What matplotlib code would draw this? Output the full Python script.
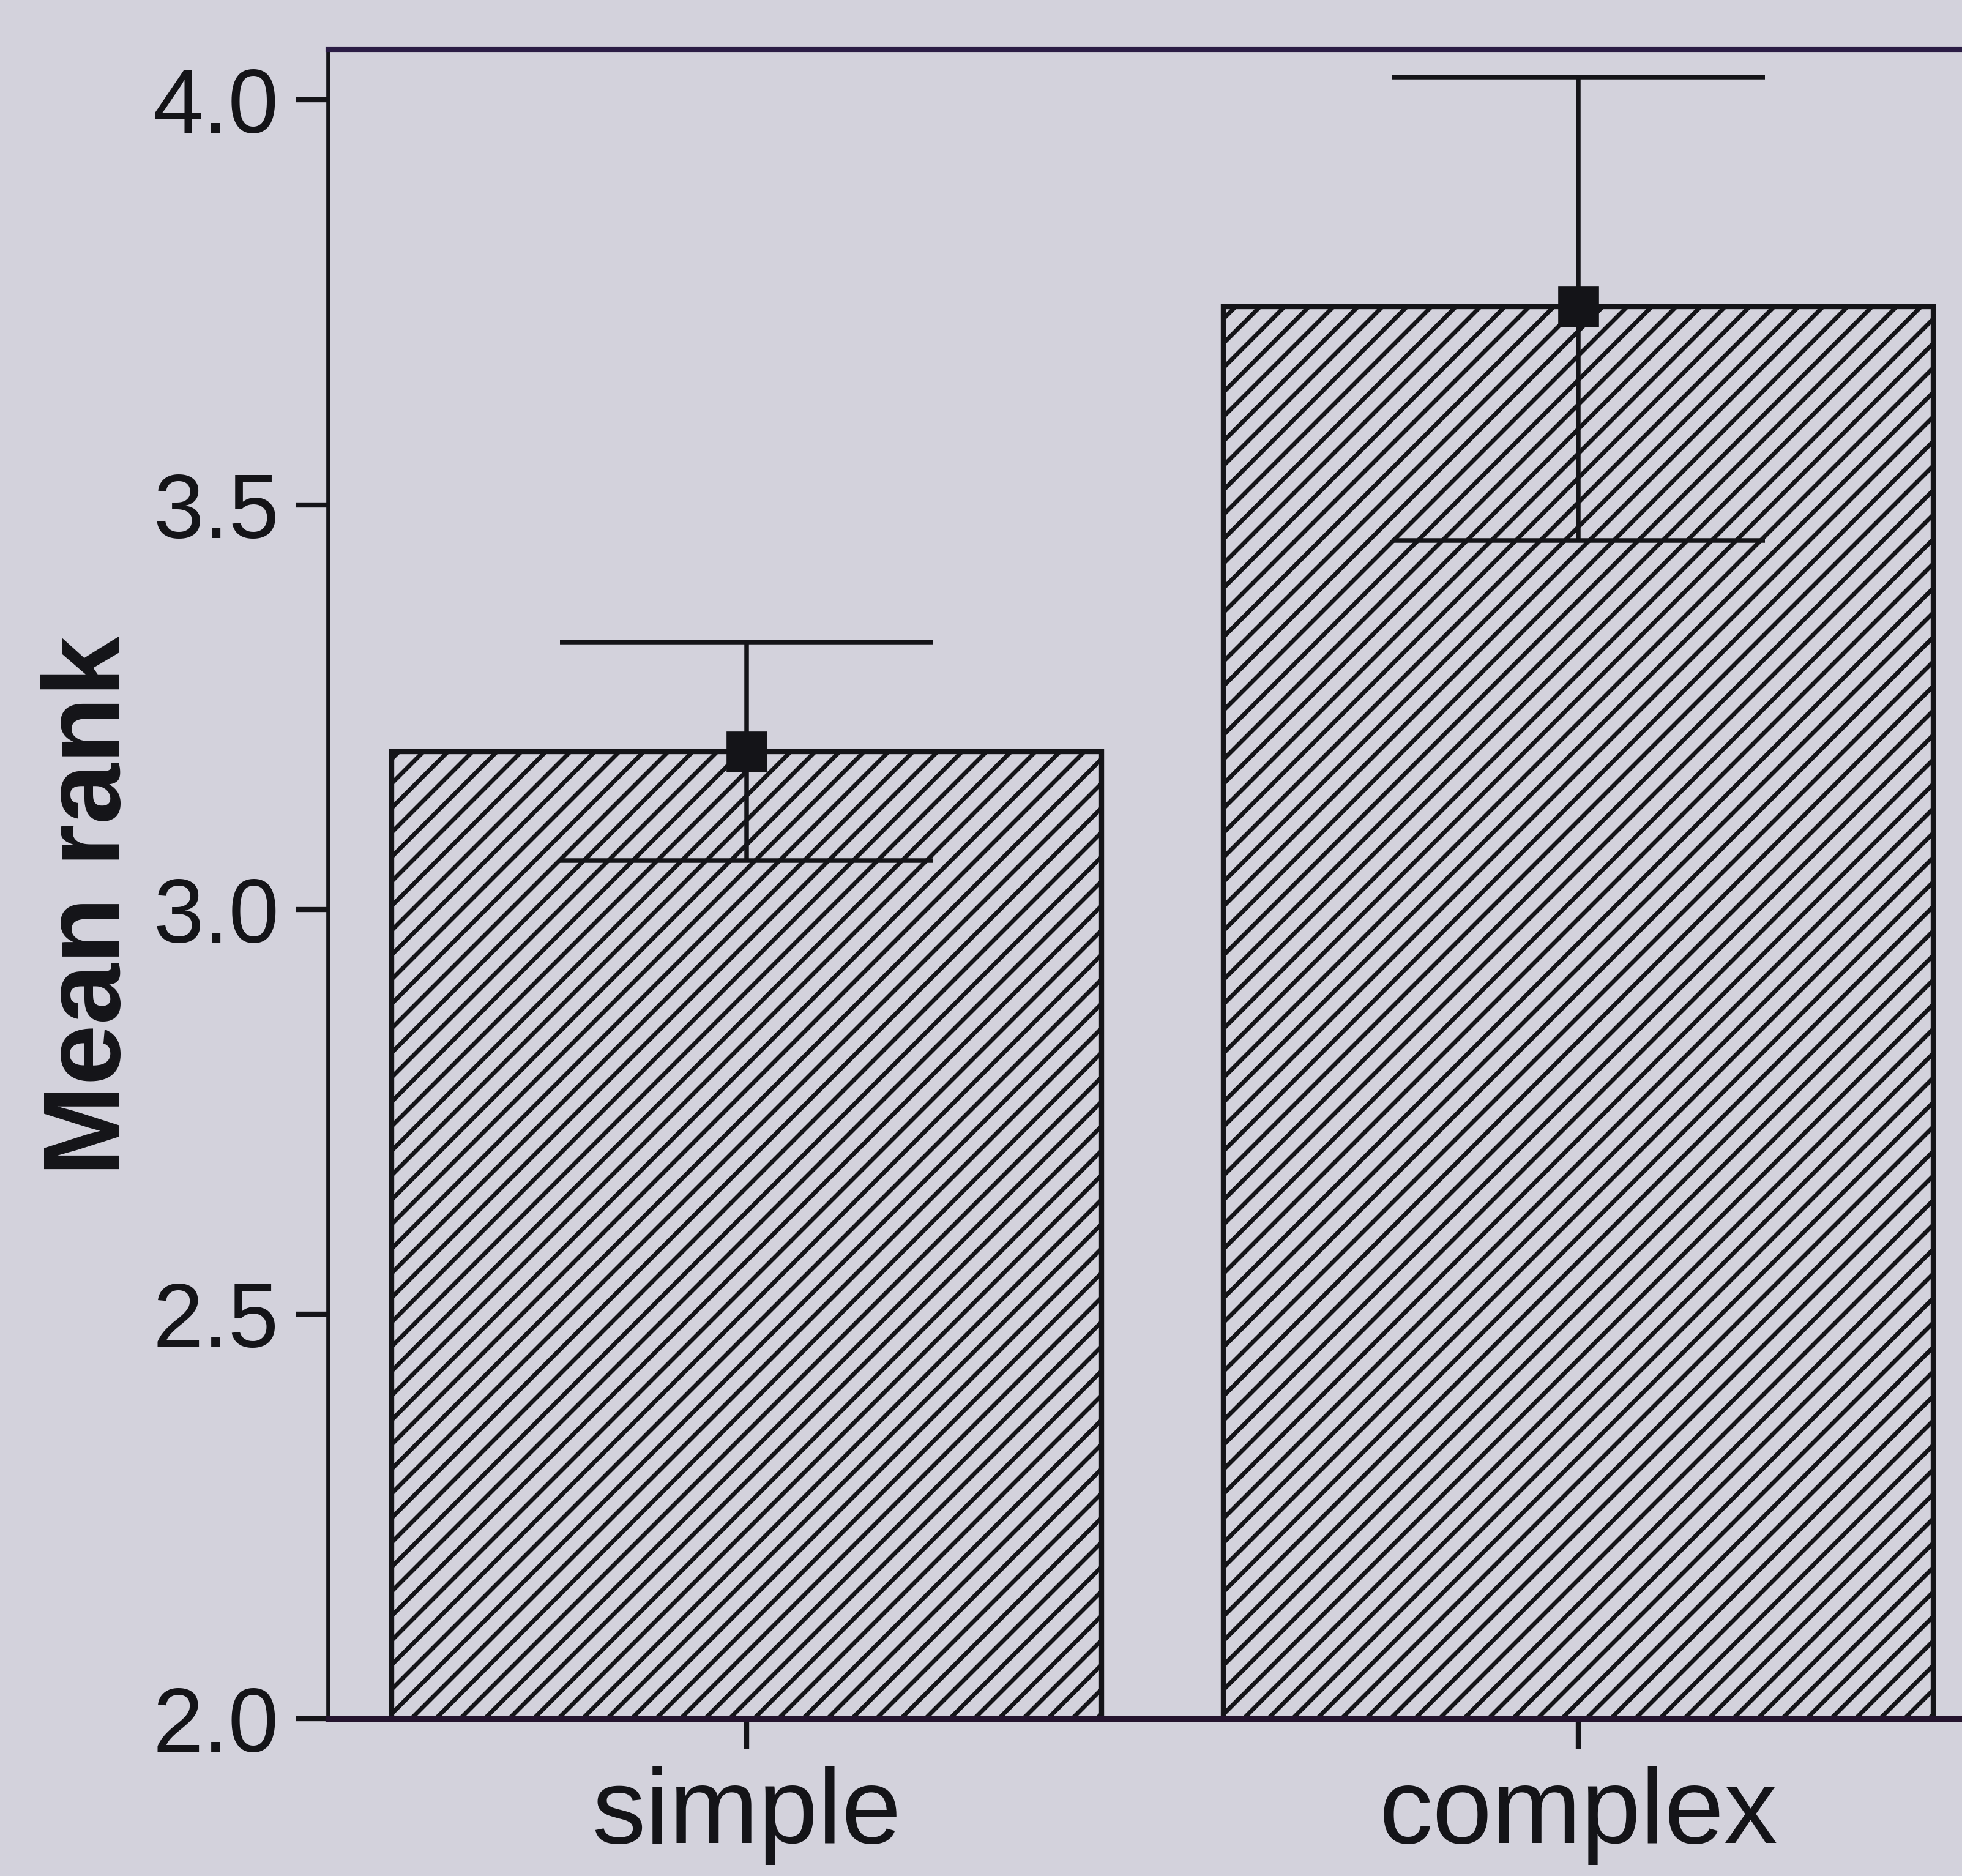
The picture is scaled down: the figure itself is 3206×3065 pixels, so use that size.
import matplotlib
matplotlib.use('Agg')
import matplotlib.pyplot as plt

categories = ['simple', 'complex']
mean_rank = [3.195, 3.745]
ci_low = [3.06, 3.456]
ci_high = [3.33, 4.028]
y_ticks = [2.0, 2.5, 3.0, 3.5, 4.0]
y_tick_labels = ['2.0', '2.5', '3.0', '3.5', '4.0']


def main():
    plt.rcParams['font.family'] = ['Liberation Sans', 'DejaVu Sans']
    plt.rcParams['hatch.linewidth'] = 4.2

    bg = '#d3d2dc'
    ink = '#141418'
    dpi = 120
    fig = plt.figure(figsize=(3206 / dpi, 3065 / dpi), dpi=dpi, facecolor=bg)
    ax = fig.add_axes([0.1672, 0.0838, 1 - 0.1672, 0.9739 - 0.0838])
    ax.set_facecolor(bg)

    x = list(range(len(categories)))
    ax.bar(x, mean_rank, width=0.853, color=bg, edgecolor=ink,
           hatch='/', linewidth=5, zorder=2)

    yerr = [[m - lo for m, lo in zip(mean_rank, ci_low)],
            [hi - m for m, hi in zip(mean_rank, ci_high)]]
    ax.errorbar(x, mean_rank, yerr=yerr, fmt='s', color=ink, markersize=39,
                elinewidth=4.5, capsize=183, capthick=4.5, zorder=3)

    ax.set_xlim(-0.503, 1.461)
    ax.set_ylim(2.0, 4.063)
    ax.set_xticks(x)
    ax.set_xticklabels(categories)
    ax.set_yticks(y_ticks)
    ax.set_yticklabels(y_tick_labels)

    ax.spines['right'].set_visible(False)
    ax.spines['top'].set_color('#2b1d45')
    ax.spines['top'].set_linewidth(5.5)
    ax.spines['bottom'].set_color('#24142e')
    ax.spines['bottom'].set_linewidth(5.5)
    ax.spines['left'].set_color(ink)
    ax.spines['left'].set_linewidth(4)

    ax.tick_params(axis='y', length=31, width=5, pad=17, labelsize=89,
                   colors=ink, direction='out')
    ax.tick_params(axis='x', length=30, width=5, pad=16, labelsize=105,
                   colors=ink, direction='out')

    fig.text(150 / 3206, 1 - 1480 / 3065, 'Mean rank', rotation=90,
             ha='center', va='center', fontsize=107, fontweight='bold',
             color=ink)

    fig.savefig('out.png', dpi=dpi, facecolor=bg)


if __name__ == '__main__':
    main()
